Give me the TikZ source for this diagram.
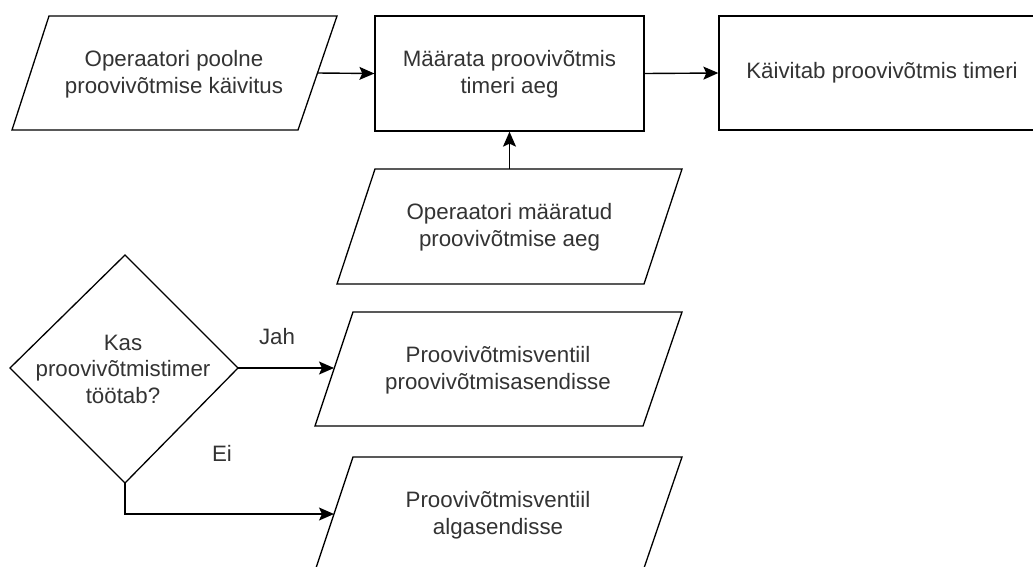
\documentclass[tikz,border=0pt]{standalone}
\usepackage{fontspec}
\setmainfont{Liberation Sans}
\usetikzlibrary{arrows.meta}
\definecolor{txtgray}{HTML}{333333}
\begin{document}
\begin{tikzpicture}[x=1pt,y=-1pt,
  shp/.style={draw=black, line width=1.3pt, fill=white},
  txt/.style={font=\fontsize{22.3}{26.5}\selectfont, text=txtgray, align=center, inner sep=0pt},
  lbl/.style={font=\fontsize{22.3}{26.5}\selectfont, text=txtgray, inner sep=0pt},
  arr/.style={draw=black, line width=1.4pt, -{Stealth[length=15pt,width=13pt,inset=3pt]}}]
\useasboundingbox (0,0) rectangle (1033,566);
\clip (0,0) rectangle (1033,566);
\fill[white] (0,0) rectangle (1033,566);
% parallelogram 1
\draw[shp] (49,16) -- (337,16) -- (298,130) -- (12,130) -- cycle;
\node[txt] (p1) at (174,74) {Operaatori poolne\\proovivõtmise käivitus};
\coordinate (p1out) at (317.5,73);
% rectangles
\node[shp, minimum width=269pt, minimum height=115pt] (r2) at (509.5,73.5) {};
\node[txt] (r2t) at (509.5,74) {Määrata proovivõtmis\\timeri aeg};
\node[shp, minimum width=326pt, minimum height=114pt] (r3) at (882,73) {};
\node[txt] (r3t) at (882,73) {Käivitab proovivõtmis timeri};
% parallelogram 4
\draw[shp] (375,169) -- (682,169) -- (644,284) -- (337,284) -- cycle;
\node[txt] (p4) at (509.5,227) {Operaatori määratud\\proovivõtmise aeg};
\coordinate (p4top) at (509.5,169);
% diamond
\draw[shp] (10,368) -- (125,255) -- (238,368) -- (125,483) -- cycle;
\node[txt] (d) at (123,369) {Kas\\proovivõtmistimer\\töötab?};
\coordinate (dright) at (238,368);
\coordinate (dbottom) at (125,483);
\coordinate (bend) at (125,514);
% parallelogram 6
\draw[shp] (353,312) -- (682,312) -- (643,426) -- (315,426) -- cycle;
\node[txt] (p6) at (498,370) {Proovivõtmisventiil\\proovivõtmisasendisse};
\coordinate (p6in) at (334,368);
% parallelogram 7
\draw[shp] (353,457) -- (682,457) -- (643,571) -- (315,571) -- cycle;
\node[txt] (p7) at (498,515) {Proovivõtmisventiil\\algasendisse};
\coordinate (p7in) at (334,514);
% connectors
\draw[arr] (p1out) -- (r2.west);
\draw[arr] (r2.east) -- (r3.west);
\draw[arr] (p4top) -- (r2.south);
\draw[arr] (dright) -- (p6in);
\draw[arr] (dbottom) -- (bend) -- (p7in);
% labels
\node[lbl] (jah) at (277,337) {Jah};
\node[lbl] (ei) at (222,453) {Ei};
\end{tikzpicture}
\end{document}
